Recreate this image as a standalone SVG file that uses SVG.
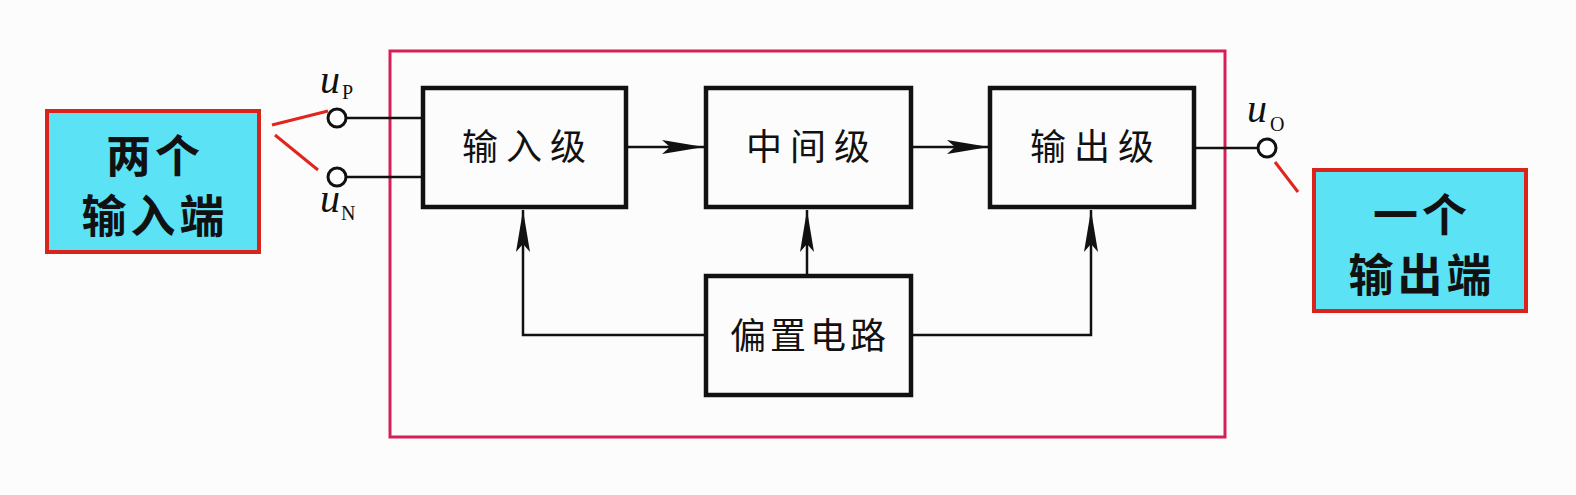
<svg xmlns="http://www.w3.org/2000/svg" width="1576" height="495" viewBox="0 0 1576 495">
<defs>
<style>
.blk{fill:none;stroke:#111;stroke-width:4.5}
.wire{fill:none;stroke:#111;stroke-width:2.5}
.red{fill:none;stroke:#E0261C;stroke-width:3}
.cyan{fill:#5BE2F5;stroke:#D8241A;stroke-width:4}
.btxt{font-family:"Noto Sans CJK SC",sans-serif;font-size:36px;fill:#111;text-anchor:middle;letter-spacing:8px}
.ctxt{font-family:"Noto Sans CJK SC",sans-serif;font-size:45px;font-weight:bold;fill:#111;text-anchor:middle;letter-spacing:4px}
.u{font-family:"Liberation Serif",serif;font-style:italic;font-size:40px;fill:#111}
.sub{font-family:"Liberation Serif",serif;font-size:20px;fill:#111}
.term{fill:#fff;stroke:#111;stroke-width:3}
</style>
<marker id="arr" markerUnits="userSpaceOnUse" markerWidth="44" markerHeight="16" refX="42" refY="7" orient="auto">
<path d="M0,0 L42,7 L0,14 L8,7 Z" fill="#111"/>
</marker>
</defs>
<rect width="1576" height="495" fill="#FCFCFC"/>
<g id="frame">
<rect x="390" y="51" width="835" height="386" fill="none" stroke="#D61F57" stroke-width="3"/>
</g>
<g id="connectors">
<line class="wire" x1="346" y1="118" x2="422" y2="118"/>
<line class="wire" x1="346" y1="177" x2="422" y2="177"/>
<line class="wire" x1="626" y1="147" x2="704" y2="147" marker-end="url(#arr)"/>
<line class="wire" x1="911" y1="147" x2="989" y2="147" marker-end="url(#arr)"/>
<line class="wire" x1="1194" y1="148" x2="1258" y2="148"/>
<line class="wire" x1="807" y1="276" x2="807" y2="210" marker-end="url(#arr)"/>
<polyline class="wire" points="705,335 523,335 523,210" marker-end="url(#arr)"/>
<polyline class="wire" points="911,335 1091,335 1091,210" marker-end="url(#arr)"/>
<line class="red" x1="272" y1="125" x2="328" y2="111"/>
<line class="red" x1="275" y1="135" x2="318" y2="170"/>
<line class="red" x1="1275" y1="162" x2="1298" y2="192"/>
</g>
<g id="term-up">
<circle class="term" cx="337" cy="118" r="9"/>
<text class="u" x="320" y="93">u</text>
<text class="sub" x="342" y="99">P</text>
</g>
<g id="term-un">
<circle class="term" cx="337" cy="177" r="9"/>
<text class="u" x="320" y="212">u</text>
<text class="sub" x="341" y="220">N</text>
</g>
<g id="term-uo">
<circle class="term" cx="1267" cy="148" r="9"/>
<text class="u" x="1247" y="122">u</text>
<text class="sub" x="1270" y="131">O</text>
</g>
<g id="input-stage">
<rect class="blk" x="423" y="88" width="203" height="119"/>
<text class="btxt" x="528" y="160">输入级</text>
</g>
<g id="middle-stage">
<rect class="blk" x="706" y="88" width="205" height="119"/>
<text class="btxt" x="812" y="160">中间级</text>
</g>
<g id="output-stage">
<rect class="blk" x="990" y="88" width="204" height="119"/>
<text class="btxt" x="1096" y="160">输出级</text>
</g>
<g id="bias">
<rect class="blk" x="706" y="276" width="205" height="119"/>
<text class="btxt" x="810" y="349" style="letter-spacing:4px">偏置电路</text>
</g>
<g id="two-inputs">
<rect class="cyan" x="47" y="111" width="212" height="141"/>
<text class="ctxt" x="155" y="173">两个</text>
<text class="ctxt" x="155" y="233">输入端</text>
</g>
<g id="one-output">
<rect class="cyan" x="1314" y="170" width="212" height="141"/>
<text class="ctxt" x="1422" y="232">一个</text>
<text class="ctxt" x="1422" y="292">输出端</text>
</g>
</svg>
